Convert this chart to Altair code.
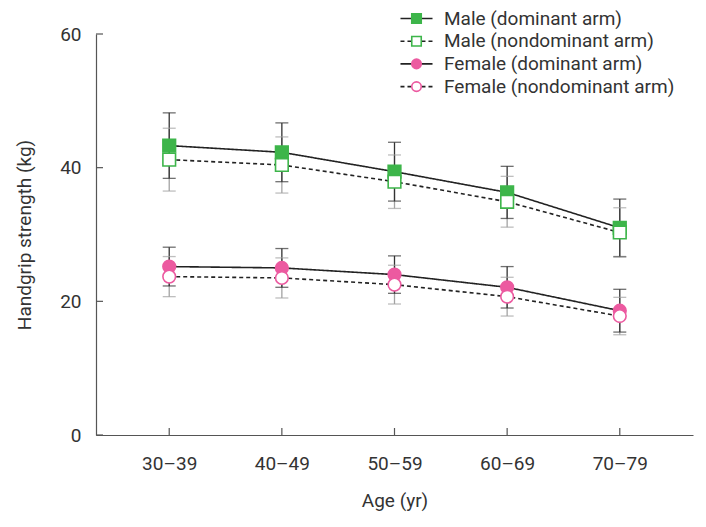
import altair as alt
import pandas as pd

ages = ["30–39", "40–49", "50–59", "60–69", "70–79"]
series = ["Male (dominant arm)", "Male (nondominant arm)",
          "Female (dominant arm)", "Female (nondominant arm)"]

male_dom = [43.3, 42.3, 39.4, 36.3, 31.0]
male_dom_sd = [4.9, 4.4, 4.4, 3.9, 4.3]
male_non = [41.2, 40.4, 37.9, 34.9, 30.3]
male_non_sd = [4.7, 4.2, 4.0, 3.8, 3.7]
female_dom = [25.2, 25.0, 24.0, 22.1, 18.6]
female_dom_sd = [2.9, 2.9, 2.8, 3.1, 3.2]
female_non = [23.7, 23.5, 22.5, 20.7, 17.8]
female_non_sd = [3.0, 3.0, 2.9, 2.9, 2.8]

y_ticks = [0, 20, 40, 60]

means = [male_dom, male_non, female_dom, female_non]
sds = [male_dom_sd, male_non_sd, female_dom_sd, female_non_sd]
arm = ["dominant", "nondominant", "dominant", "nondominant"]
# marker legend keys differ by a trailing space so the two legends stay separate
series_pt = [s + " " for s in series]

rows = []
for s, sp, m, sd, a in zip(series, series_pt, means, sds, arm):
    for age, v, e in zip(ages, m, sd):
        rows.append({"age": age, "series": s, "sl": s, "sp": sp,
                     "mean": v, "sd": e, "arm": a})
df = pd.DataFrame(rows)

FONT = "Roboto"
FS = 19
W, H = 597, 401

xs = alt.Scale(type="point", padding=0.65)
X = alt.X("age:N", sort=ages, scale=xs,
          axis=alt.Axis(title="Age (yr)", labelAngle=0, labelPadding=19,
                        titlePadding=18, ticks=False))
ys = alt.Scale(domain=[0, 60], nice=False, zero=True)
Y = alt.Y("mean:Q", scale=ys,
          axis=alt.Axis(title="Handgrip strength (kg)", values=y_ticks,
                        labelPadding=15, titlePadding=25, ticks=False))

base = alt.Chart(df)

err = base.transform_calculate(
    lo="datum.mean - datum.sd", hi="datum.mean + datum.sd"
)

bar_color = alt.Color("arm:N", scale=alt.Scale(domain=["dominant", "nondominant"],
                                                range=["#333333", "#a3a3a3"]),
                      legend=None)
err_order = alt.Order("arm:N", sort="descending")

rules = err.mark_rule(strokeWidth=1.3).encode(
    x=X, y=alt.Y("lo:Q", scale=ys), y2="hi:Q", color=bar_color, order=err_order)
caps_lo = err.mark_tick(size=13, thickness=1.3).encode(
    x=X, y=alt.Y("lo:Q", scale=ys), color=bar_color)
caps_hi = err.mark_tick(size=13, thickness=1.3).encode(
    x=X, y=alt.Y("hi:Q", scale=ys), color=bar_color)

LEG_X = 311
LEG_Y = -25
ROWPAD = 2.7
lines = base.mark_line(color="#222222", strokeWidth=1.6).encode(
    x=X, y=Y, detail="series:N",
    strokeDash=alt.StrokeDash(
        "sl:N", scale=alt.Scale(domain=series, range=[[1, 0], [4, 3], [1, 0], [4, 3]]),
        legend=alt.Legend(title=None, orient="none", legendX=LEG_X, legendY=LEG_Y,
                          symbolType="M-3,0H3", symbolStrokeColor="#222222",
                          symbolSize=114, symbolStrokeWidth=1.6, padding=0,
                          rowPadding=ROWPAD, labelFont=FONT, labelFontSize=FS,
                          labelColor="#333333", labelOffset=18, labelLimit=400,
                          zindex=0)),
)

GREEN = "#3db54a"
PINK = "#ec5aa0"
points = base.mark_point(strokeWidth=1.6, opacity=1, filled=False).encode(
    x=X, y=Y,
    size=alt.Size("arm:N", scale=alt.Scale(domain=["dominant", "nondominant"],
                                            range=[160, 160]),
                  legend=None),
    shape=alt.Shape("sp:N", scale=alt.Scale(domain=series_pt,
                                             range=["square", "square", "circle", "circle"]),
                    legend=alt.Legend(title=None, orient="none", legendX=LEG_X, legendY=LEG_Y,
                                      padding=0, rowPadding=ROWPAD, labelFont=FONT,
                                      labelFontSize=FS, labelOpacity=0, symbolSize=90,
                                      labelLimit=400, zindex=2,
                                      symbolStrokeWidth=1.6, symbolOpacity=1)),
    fill=alt.Fill("sp:N", scale=alt.Scale(domain=series_pt,
                                           range=[GREEN, "white", PINK, "white"])),
    stroke=alt.Stroke("sp:N", scale=alt.Scale(domain=series_pt,
                                               range=[GREEN, GREEN, PINK, PINK])),
)

ytick_df = pd.DataFrame({"v": y_ticks})
yticks = alt.Chart(ytick_df).mark_rule(color="#555555", strokeWidth=1.2).encode(
    y=alt.Y("v:Q", scale=ys), x=alt.value(0), x2=alt.value(7))
xtick_df = pd.DataFrame({"age": ages})
xticks = alt.Chart(xtick_df).mark_rule(color="#555555", strokeWidth=1.2).encode(
    x=X, y=alt.value(H), y2=alt.value(H - 7))

chart = alt.layer(rules, caps_lo, caps_hi, lines, points, yticks, xticks).resolve_scale(
    color="independent"
).properties(
    width=W, height=H,
    autosize=alt.AutoSizeParams(type="none"),
    padding={"left": 88, "top": 26, "right": 5, "bottom": 84},
).configure_view(stroke=None).configure_axis(
    grid=False, domainColor="#555555", domainWidth=1.2,
    labelFont=FONT, labelFontSize=FS, labelColor="#333333",
    titleFont=FONT, titleFontSize=FS, titleFontWeight="normal", titleColor="#333333",
).configure_legend(labelFont=FONT)

chart.save("out.html", embed_options={"renderer": "svg", "actions": False})
